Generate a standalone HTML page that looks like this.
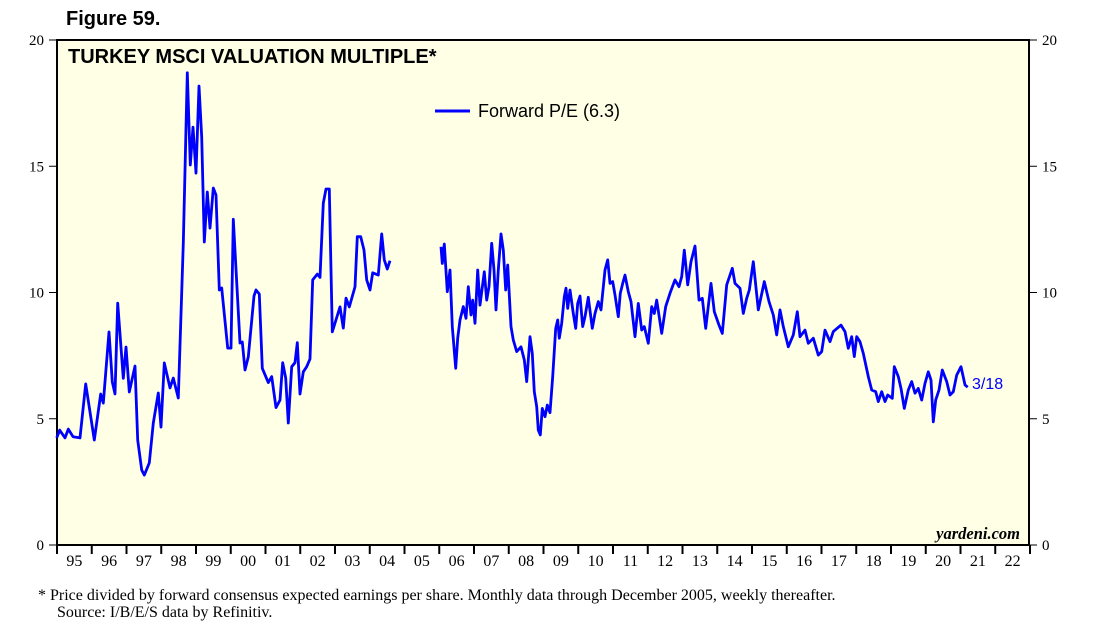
<!DOCTYPE html>
<html><head><meta charset="utf-8"><style>
body{margin:0;background:#fff;width:1117px;height:625px;overflow:hidden}
svg{display:block}
</style></head><body>
<svg id="c" width="1117" height="625" xmlns="http://www.w3.org/2000/svg">
<text x="66" y="25" font-family="Liberation Sans, sans-serif" font-weight="bold" font-size="20">Figure 59.</text>
<rect x="57" y="40" width="972" height="505" fill="#FFFFE6" stroke="#000" stroke-width="2"/>
<text x="68" y="63" font-family="Liberation Sans, sans-serif" font-weight="bold" font-size="20">TURKEY MSCI VALUATION MULTIPLE*</text>
<line x1="435" y1="111" x2="470" y2="111" stroke="#0000FF" stroke-width="3"/>
<text x="478" y="117" font-family="Liberation Sans, sans-serif" font-size="18">Forward P/E (6.3)</text>
<text x="1020" y="539" text-anchor="end" font-family="Liberation Serif, serif" font-style="italic" font-weight="bold" font-size="16.5">yardeni.com</text>
<g id="axes"></g>
<g id="series"></g>
<text x="972" y="389" font-family="Liberation Sans, sans-serif" font-size="16" fill="#0000FF">3/18</text>
<text x="38" y="600" font-family="Liberation Serif, serif" font-size="16">*  Price divided by forward consensus expected earnings per share. Monthly data through December 2005, weekly thereafter.</text>
<text x="57" y="617" font-family="Liberation Serif, serif" font-size="16">Source: I/B/E/S data by Refinitiv.</text>
</svg>
<script>
const yTicks=[0,5,10,15,20];
const yearLabels=["95","96","97","98","99","00","01","02","03","04","05","06","07","08","09","10","11","12","13","14","15","16","17","18","19","20","21","22"];
const seg1Px=[56.7,59.7,65,68.3,73,80,85.7,94.3,100.7,103.3,109,112.3,115,117.7,123.3,126,129.3,135,137.7,141.7,144.3,149.3,153.3,158.3,161,164.3,170,173.3,178.3,183.3,187.3,190.3,193,196,199,201.7,204.3,207.3,210,213.3,216,219.3,221.7,227.7,231,233.3,240,242.3,245,248.3,254,256,259.3,262.3,268.3,271.7,276,280,282.7,285.7,288.3,291.7,295,297.3,300,303.3,306.7,310,312.7,317.3,320,323.3,326,329.3,332.3,340,343.3,346,349.3,355,357.3,360.7,364,366.7,370,372.7,378.3,381.7,384.3,387.3,390,392.7];
const seg1Val=[4.24,4.55,4.24,4.59,4.29,4.24,6.38,4.16,5.98,5.62,8.44,6.46,5.98,9.58,6.6,7.84,6.06,7.09,4.16,2.97,2.77,3.25,4.83,6.02,4.67,7.21,6.22,6.61,5.82,11.96,18.7,15.05,16.55,14.73,18.18,16.16,12.0,13.98,12.55,14.14,13.86,10.1,10.18,7.8,7.8,12.9,8.0,8.04,6.93,7.45,9.86,10.1,9.94,7.0,6.43,6.67,5.44,5.74,7.22,6.61,4.83,7.06,7.22,8.01,5.98,6.86,7.06,7.37,10.5,10.73,10.6,13.54,14.1,14.1,8.44,9.43,8.59,9.78,9.43,10.22,12.21,12.21,11.68,10.5,10.1,10.78,10.69,12.32,11.29,10.93,11.26];
const seg2Px=[441,442.3,444.3,447.3,450,452.3,455.7,457.7,460,463.3,466,468.3,471,472.7,475,477.7,480,484.3,486.7,489,491.7,494,496,498.3,501,503.3,505.7,507.7,511,513.3,516.7,521,524.3,526.7,530,532.3,534.3,536.7,538.3,540.3,542.3,545,547.3,550,552.7,555.7,557.7,559.3,561.7,564.3,566,567.7,570,573.3,575.7,577.7,580,582.7,585,588.3,592.3,595,598.3,601,605,607.7,610,612.7,615,618.3,620.3,622.7,625,628.3,631,635,638.3,641.7,644.3,648.3,651.7,654.3,656.7,661.7,665.7,670,675,679,681.7,684.3,687.7,691,695,699,702.3,705.7,711,714.3,719,722.3,726.7,732.3,735,740,743.3,746.7,749.3,753.3,758.3,764.3,769,773.3,776.7,780,783.3,788.3,793.3,797.3,800,805,808.3,813.3,818.3,821.7,825,830,833.3,841,845,848.3,851.7,854.3,856.7,860,863.3,868.3,871.7,875.7,878.3,881.7,885,887.7,892.3,894.3,898.3,901,904.3,908.3,911.7,915,918.3,921.7,925,928.3,931,933.3,935.7,939,942.3,946.7,950,953.3,956.7,961,965,967.7];
const seg2Val=[11.81,11.15,11.92,10.03,10.89,8.65,7.0,8.19,8.91,9.44,8.98,10.23,9.11,9.7,8.78,10.89,9.5,10.82,9.7,10.23,11.95,10.89,9.31,10.89,12.32,11.68,10.1,11.09,8.65,8.12,7.66,7.85,7.33,6.47,8.25,7.59,6.07,5.48,4.55,4.36,5.41,5.08,5.54,5.24,6.67,8.58,8.91,8.19,8.78,9.83,10.17,9.37,10.1,9.17,8.58,9.57,9.86,8.65,9.04,9.81,8.58,9.17,9.64,9.31,10.89,11.29,10.36,10.43,9.9,9.04,9.97,10.36,10.69,10.03,9.64,8.25,9.57,8.51,8.65,7.99,9.44,9.17,9.7,8.38,9.44,9.97,10.5,10.23,10.63,11.68,10.3,11.22,11.84,9.7,9.77,8.58,10.36,9.24,8.71,8.38,10.3,10.96,10.36,10.17,9.17,9.77,10.1,11.22,9.31,10.43,9.64,9.11,8.32,9.31,8.65,7.85,8.32,9.24,8.25,8.51,7.99,8.19,7.52,7.66,8.51,8.05,8.45,8.71,8.45,7.79,8.25,7.46,8.25,8.05,7.59,6.67,6.14,6.07,5.68,6.07,5.68,5.94,5.81,7.06,6.67,6.2,5.41,6.14,6.47,6.01,6.2,5.74,6.4,6.86,6.53,4.88,5.74,6.14,6.93,6.47,5.94,6.07,6.73,7.06,6.34,6.25];
const toYear=p=>1995+(p-57)/34.75;
const seg1Dates=seg1Px.map(toYear), seg2Dates=seg2Px.map(toYear);
const X=t=>57+(t-1995)*34.75;
const Y=v=>545-v*25.25;
const NS="http://www.w3.org/2000/svg";
const ax=document.getElementById('axes');
function mk(tag,attrs,parent){const e=document.createElementNS(NS,tag);for(const k in attrs)e.setAttribute(k,attrs[k]);parent.appendChild(e);return e;}
yTicks.forEach(v=>{
 const y=Y(v);
 const l1=mk('line',{x1:49,y1:y,x2:57,y2:y,stroke:'#000','stroke-width':1},ax);
 
 
 const l2=mk('line',{x1:1029,y1:y,x2:1037,y2:y,stroke:'#000','stroke-width':1},ax);
 
 
 const t1=mk('text',{x:44,y:y+5,'text-anchor':'end','font-family':'Liberation Serif, serif','font-size':15},ax);
 t1.textContent=v;
 
 
 const t2=mk('text',{x:1042,y:y+5,'font-family':'Liberation Serif, serif','font-size':15},ax);
 t2.textContent=v;
 
 
});
yearLabels.forEach((lab,i)=>{
 const x=X(1995+i);
 const tk=mk('line',{x1:x,y1:545,x2:x,y2:554,stroke:'#000','stroke-width':2},ax);
 
 
 const t=mk('text',{x:x+17.4,y:566,'text-anchor':'middle','font-family':'Liberation Serif, serif','font-size':16},ax);
 t.textContent=lab;
 
 
});
const lastTk=mk('line',{x1:X(2023),y1:545,x2:X(2023),y2:554,stroke:'#000','stroke-width':2},ax);


const sg=document.getElementById('series');
[[seg1Dates,seg1Val],[seg2Dates,seg2Val]].forEach(([d,v])=>{
 const pts=d.map((t,i)=>X(t).toFixed(1)+','+Y(v[i]).toFixed(1)).join(' ');
 const pl=mk('polyline',{points:pts,fill:'none',stroke:'#0000FF','stroke-width':2.8,'stroke-linejoin':'round'},sg);
 
 
});
</script>
</body></html>
